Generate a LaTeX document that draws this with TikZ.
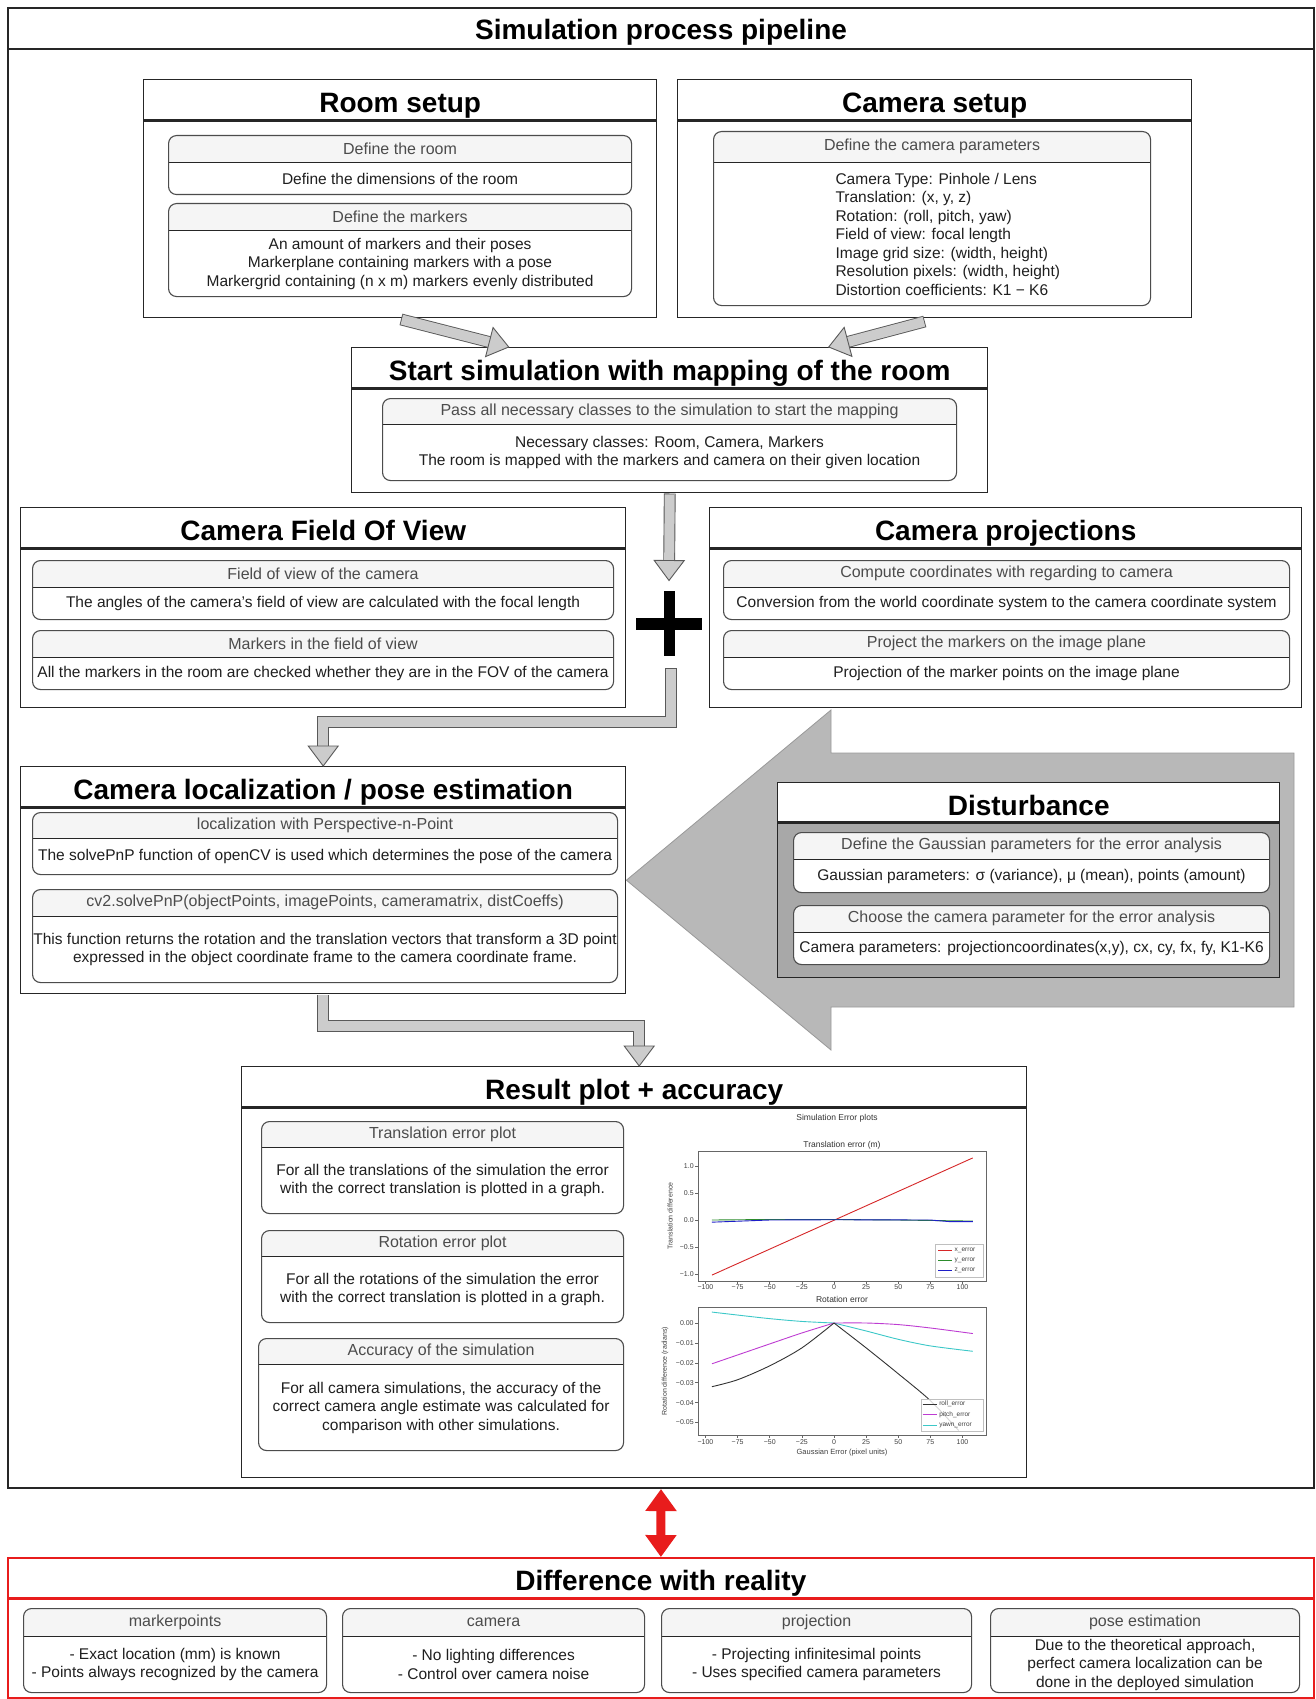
\documentclass[tikz,border=0pt]{standalone}
\usepackage{fontspec}
\setmainfont{Liberation Sans}
\usetikzlibrary{calc,arrows.meta}
\definecolor{hdrgray}{RGB}{245,245,245}
\definecolor{shaftgray}{RGB}{204,204,204}
\definecolor{distgray}{RGB}{184,184,184}
\definecolor{distbody}{RGB}{168,168,168}
\definecolor{realred}{RGB}{232,28,28}
\definecolor{plotred}{RGB}{214,39,40}
\definecolor{plotgreen}{RGB}{44,140,44}
\definecolor{plotblue}{RGB}{30,30,200}
\definecolor{plotmag}{RGB}{190,60,210}
\definecolor{plotcyan}{RGB}{60,200,200}

\newcommand{\bodyfont}{\fontsize{15.5}{18.5}\selectfont}
\newcommand{\headfont}{\fontsize{16}{19}\selectfont}
\newcommand{\titlefont}{\fontsize{28}{32}\selectfont\bfseries}

% header + body text of a card
\newcommand{\cardtext}[4][27]{%
  \node[hd] (#2-h) at ([yshift=-#1pt/2]#2.north) {#3};
  \node[bd] (#2-b) at ($([yshift=-#1pt]#2.north)!0.5!(#2.south)$) {#4};}

% fat gray connector: path, last point before tip, tip
\newcommand{\fatarrow}[3]{%
  \path ($(#3)!20pt!(#2)$) coordinate (hb);
  \draw[shaft] #1 -- (hb);
  \filldraw[fathead] (#3) -- ($(hb)!15pt!90:(#3)$) -- ($(hb)!15pt!-90:(#3)$) -- cycle;}

\begin{document}
\begin{tikzpicture}[x=1pt, y=-1pt,
  panel/.style={draw=black!85, line width=1.4pt, fill=white, anchor=north west, inner sep=0pt,
    path picture={\draw[black!85, line width=2.8pt] ([yshift=-41pt]path picture bounding box.north west) -- ([yshift=-41pt]path picture bounding box.north east);}},
  distpanel/.style={draw=black!85, line width=1.4pt, fill=distbody, anchor=north west, inner sep=0pt,
    path picture={\fill[white] (path picture bounding box.north west) rectangle ([yshift=-40pt]path picture bounding box.north east);
      \draw[black!85, line width=2.8pt] ([yshift=-40pt]path picture bounding box.north west) -- ([yshift=-40pt]path picture bounding box.north east);}},
  diffpanel/.style={draw=realred, line width=1.8pt, fill=white, anchor=north west, inner sep=0pt,
    path picture={\draw[realred, line width=3pt] ([yshift=-41pt]path picture bounding box.north west) -- ([yshift=-41pt]path picture bounding box.north east);}},
  card/.style={draw=black!70, line width=1.1pt, rounded corners=8pt, fill=white, anchor=north west, inner sep=0pt,
    path picture={\fill[hdrgray, sharp corners] (path picture bounding box.north west) rectangle ([yshift=-#1]path picture bounding box.north east);
      \draw[black!85, line width=1.6pt, sharp corners] ([yshift=-#1]path picture bounding box.north west) -- ([yshift=-#1]path picture bounding box.north east);}},
  card/.default=27pt,
  hd/.style={font=\headfont, text=black!70},
  bd/.style={font=\bodyfont, align=center, text=black!88},
  ttl/.style={font=\titlefont, text height=21pt, text depth=6pt},
  shaft/.style={draw=black!65, line width=0.9pt, double=shaftgray, double distance=10pt, line cap=rect},
  fathead/.style={fill=shaftgray, draw=black!65, line width=0.9pt, line join=miter},
  axisline/.style={draw=black!60, line width=0.6pt},
  tick/.style={font=\fontsize{7}{8}\selectfont, text=black!75, inner sep=1pt},
  legtext/.style={font=\fontsize{6.5}{7}\selectfont, text=black!75, inner sep=1pt},
  pfont/.style={font=\fontsize{8.5}{10}\selectfont, text=black!80, inner sep=1pt}]
\useasboundingbox (0,0) rectangle (1315,1699);

% Main frame
\node[panel, line width=2pt, minimum width=1306pt, minimum height=1480pt] (main) at (7,7) {};
\node[ttl] (mainT) at ($(main.north)+(0,25)$) {Simulation process pipeline};

% Room setup
\node[panel, minimum width=513pt, minimum height=238pt] (room) at (143,79) {};
\node[ttl] (roomT) at ($(room.north)+(0,26)$) {Room setup};
\node[card, minimum width=463pt, minimum height=59pt] (cRoom) at (168,135) {};
\cardtext{cRoom}{Define the room}{Define the dimensions of the room}
\node[card, minimum width=463pt, minimum height=93pt] (cMark) at (168,203) {};
\cardtext{cMark}{Define the markers}{An amount of markers and their poses\\Markerplane containing markers with a pose\\Markergrid containing (n x m) markers evenly distributed}

% Camera setup
\node[panel, minimum width=514pt, minimum height=238pt] (camset) at (677,79) {};
\node[ttl] (camsetT) at ($(camset.north)+(0,26)$) {Camera setup};
\node[card=31pt, minimum width=437pt, minimum height=174pt] (cCam) at (713,131) {};
\node[hd] (cCam-h) at ([yshift=-15.5pt]cCam.north) {Define the camera parameters};
\node[bd, align=left, anchor=west] (cCam-b) at (832,234) {Camera Type: Pinhole / Lens\\Translation: (x, y, z)\\Rotation: (roll, pitch, yaw)\\Field of view: focal length\\Image grid size: (width, height)\\Resolution pixels: (width, height)\\Distortion coefficients: K1 − K6};

% Start simulation
\node[panel, minimum width=636pt, minimum height=145pt] (start) at (351,347) {};
\node[ttl] (startT) at ($(start.north)+(0,26)$) {Start simulation with mapping of the room};
\node[card=26pt, minimum width=574pt, minimum height=82pt] (cPass) at (382,398) {};
\cardtext[26]{cPass}{Pass all necessary classes to the simulation to start the mapping}{Necessary classes: Room, Camera, Markers\\The room is mapped with the markers and camera on their given location}

% Camera field of view
\node[panel, minimum width=605pt, minimum height=200pt] (fov) at (20,507) {};
\node[ttl] (fovT) at ($(fov.north)+(0,26)$) {Camera Field Of View};
\node[card, minimum width=581pt, minimum height=59pt] (cFov1) at (32,560) {};
\cardtext{cFov1}{Field of view of the camera}{The angles of the camera's field of view are calculated with the focal length}
\node[card, minimum width=581pt, minimum height=59pt] (cFov2) at (32,630) {};
\cardtext{cFov2}{Markers in the field of view}{All the markers in the room are checked whether they are in the FOV of the camera}

% Camera projections
\node[panel, minimum width=592pt, minimum height=200pt] (proj) at (709,507) {};
\node[ttl] (projT) at ($(proj.north)+(0,26)$) {Camera projections};
\node[card, minimum width=566pt, minimum height=59pt] (cProj1) at (723,560) {};
\cardtext{cProj1}{Compute coordinates with regarding to camera}{Conversion from the world coordinate system to the camera coordinate system}
\node[card, minimum width=566pt, minimum height=59pt] (cProj2) at (723,630) {};
\cardtext{cProj2}{Project the markers on the image plane}{Projection of the marker points on the image plane}

% Camera localization
\node[panel, minimum width=605pt, minimum height=227pt] (loc) at (20,766) {};
\node[ttl] (locT) at ($(loc.north)+(0,26)$) {Camera localization / pose estimation};
\node[card=26pt, minimum width=585pt, minimum height=62pt] (cLoc1) at (32,812) {};
\cardtext[26]{cLoc1}{localization with Perspective-n-Point}{The solvePnP function of openCV is used which determines the pose of the camera}
\node[card, minimum width=585pt, minimum height=93pt] (cLoc2) at (32,889) {};
\cardtext{cLoc2}{cv2.solvePnP(objectPoints, imagePoints, cameramatrix, distCoeffs)}{This function returns the rotation and the translation vectors that transform a 3D point\\expressed in the object coordinate frame to the camera coordinate frame.}

% Disturbance arrow
\filldraw[fill=distgray, draw=black!40, line width=0.8pt] (loc.east) -- (831,710) -- (831,753) -- (1294,753) -- (1294,1007) -- (831,1007) -- (831,1050) -- cycle;
\node[distpanel, minimum width=502pt, minimum height=195pt] (dist) at (777,782) {};
\node[ttl] (distT) at ($(dist.north)+(0,25.5)$) {Disturbance};
\node[card, minimum width=476pt, minimum height=60pt] (cDist1) at (793,832) {};
\cardtext{cDist1}{Define the Gaussian parameters for the error analysis}{Gaussian parameters: σ (variance), μ (mean), points (amount)}
\node[card, minimum width=476pt, minimum height=59pt] (cDist2) at (793,905) {};
\cardtext{cDist2}{Choose the camera parameter for the error analysis}{Camera parameters: projectioncoordinates(x,y), cx, cy, fx, fy, K1-K6}

% Result plot + accuracy
\node[panel, minimum width=785pt, minimum height=411pt] (result) at (241,1066) {};
\node[ttl] (resultT) at ($(result.north)+(0,26)$) {Result plot + accuracy};
\node[card=26pt, minimum width=362pt, minimum height=92pt] (cRes1) at (261,1121) {};
\cardtext[26]{cRes1}{Translation error plot}{For all the translations of the simulation the error\\with the correct translation is plotted in a graph.}
\node[card=26pt, minimum width=362pt, minimum height=92pt] (cRes2) at (261,1230) {};
\cardtext[26]{cRes2}{Rotation error plot}{For all the rotations of the simulation the error\\with the correct translation is plotted in a graph.}
\node[card=26pt, minimum width=365pt, minimum height=112pt] (cRes3) at (258,1338) {};
\cardtext[26]{cRes3}{Accuracy of the simulation}{For all camera simulations, the accuracy of the\\correct camera angle estimate was calculated for\\comparison with other simulations.}

% Error plots
\node[pfont] (plotT) at (837,1118) {Simulation Error plots};
\node[pfont] (transT) at (842,1145) {Translation error (m)};
\node[pfont] (rotT) at (842,1299) {Rotation error};
\node[tick, font=\fontsize{7.5}{9}\selectfont] (gaussL) at (842,1453) {Gaussian Error (pixel units)};
\node[tick, rotate=90] (transL) at (670,1216) {Translation difference};
\node[tick, rotate=90] (rotL) at (665,1371) {Rotation difference (radians)};
\begin{scope}[shift={(834,1220)}, x=1.285pt, y=54pt]
  \draw[axisline] (-105.8,-1.13) rectangle (118.3,1.278);
  \foreach \v/\t [count=\k] in {-100/−100,-75/−75,-50/−50,-25/−25,0/0,25/25,50/50,75/75,100/100} {
    \draw[axisline] (\v,-1.13) -- (\v,-1.19);
    \node[tick, below] (ux\k) at (\v,-1.18) {\t};}
  \foreach \v/\t [count=\k] in {-1/−1.0,-0.5/−0.5,0/0.0,0.5/0.5,1/1.0} {
    \draw[axisline] (-105.8,\v) -- (-108.3,\v);
    \node[tick, left] (uy\k) at (-108.3,\v) {\t};}
  \draw[plotred, line width=0.9pt] (-95,-1.02) -- (108,1.15);
  \draw[plotgreen, line width=0.9pt] (-95,0) -- (-50,0.01) -- (0,0.01) -- (50,0) -- (108,-0.02);
  \draw[plotblue, line width=0.9pt] (-95,-0.04) -- (-50,0) -- (0,0.005) -- (75,0) -- (90,-0.03) -- (108,-0.03);
  \filldraw[fill=white, draw=black!25, line width=0.5pt] (78.6,-0.444) rectangle (116,-1.056);
  \foreach \c/\t/\yy [count=\k] in {plotred/x\_error/-0.556, plotgreen/y\_error/-0.74, plotblue/z\_error/-0.926} {
    \draw[\c, line width=0.9pt] (81,\yy) -- (92,\yy);
    \node[legtext, right] (ul\k) at (93,\yy) {\t};}
\end{scope}
\begin{scope}[shift={(834,1323)}, x=1.285pt, y=1990pt]
  \draw[axisline] (-105.8,-0.0563) rectangle (118.3,0.00804);
  \foreach \v/\t [count=\k] in {-100/−100,-75/−75,-50/−50,-25/−25,0/0,25/25,50/50,75/75,100/100} {
    \draw[axisline] (\v,-0.0563) -- (\v,-0.0578);
    \node[tick, below] (lx\k) at (\v,-0.0578) {\t};}
  \foreach \v/\t [count=\k] in {0/0.00,-0.01/−0.01,-0.02/−0.02,-0.03/−0.03,-0.04/−0.04,-0.05/−0.05} {
    \draw[axisline] (-105.8,\v) -- (-108.3,\v);
    \node[tick, left] (ly\k) at (-108.3,\v) {\t};}
  \draw[plotcyan, line width=0.9pt] plot[smooth] coordinates {(-95,0.0055) (-75,0.0040) (-50,0.0022) (-25,0.0008) (0,0)}
    plot[smooth] coordinates {(0,0) (25,-0.004) (50,-0.0082) (75,-0.0115) (108,-0.0142)};
  \draw[plotmag, line width=0.9pt] plot[smooth] coordinates {(-95,-0.0205) (-50,-0.0105) (-25,-0.005) (0,0)}
    plot[smooth] coordinates {(0,0) (25,0.0) (50,-0.0008) (75,-0.0025) (108,-0.0053)};
  \draw[black!80, line width=0.9pt] plot[smooth] coordinates {(-95,-0.032) (-75,-0.0285) (-50,-0.0215) (-25,-0.0125) (0,0)}
    plot[smooth] coordinates {(0,0) (25,-0.0125) (50,-0.0255) (75,-0.039) (97,-0.054)};
  \filldraw[fill=white, fill opacity=0.8, draw=black!25, line width=0.5pt] (67.7,-0.0382) rectangle (116,-0.0543);
  \foreach \c/\t/\yy [count=\k] in {black!80/roll\_error/-0.0407, plotmag/pitch\_error/-0.046, plotcyan/yawn\_error/-0.0513} {
    \draw[\c, line width=0.9pt] (69,\yy) -- (80,\yy);
    \node[legtext, right] (ll\k) at (81,\yy) {\t};}
\end{scope}

% Plus sign
\coordinate (plus) at (669,623.5);
\draw[line width=11pt] ([yshift=32.5pt]plus) -- ([yshift=-32.5pt]plus);
\draw[line width=12pt] ([xshift=-33pt]plus) -- ([xshift=33pt]plus);

% Fat connectors
\coordinate (rsTail) at ([xshift=6.5pt,yshift=-2.5pt]room.south);
\coordinate (rsTip) at ([xshift=-161pt]start.north);
\fatarrow{(rsTail)}{rsTail}{rsTip}
\coordinate (csTail) at ([xshift=-15.6pt,yshift=-4.6pt]camset.south);
\coordinate (csTip) at ([xshift=159pt]start.north);
\fatarrow{(csTail)}{csTail}{csTip}
\coordinate (spTail) at ([yshift=-6pt]start.south);
\coordinate (spTip) at ([yshift=43pt]plus);
\fatarrow{(spTail)}{spTail}{spTip}
\coordinate (plTail) at ([xshift=2pt,yshift=-50.5pt]plus);
\path (loc.north) ++(0,-44) coordinate (plBend);
\fatarrow{(plTail) |- (plBend)}{plBend}{loc.north}
\coordinate (lrTail) at ([yshift=-6pt]loc.south);
\coordinate (lrTip) at ([xshift=5pt]result.north);
\path (lrTip) ++(0,-40) coordinate (lrBend);
\fatarrow{(lrTail) |- (lrBend)}{lrBend}{lrTip}

% Difference with reality
\node[diffpanel, minimum width=1306pt, minimum height=140pt] (diff) at (7,1557) {};
\node[ttl] (diffT) at ($(diff.north)+(0,26)$) {Difference with reality};
\draw[realred, line width=9pt, {Triangle[width=30pt,length=22pt]}-{Triangle[width=30pt,length=22pt]}] (main.south) -- (diff.north);
\node[card=28pt, minimum width=303pt, minimum height=84pt] (cMp) at (23,1608) {};
\cardtext[28]{cMp}{markerpoints}{- Exact location (mm) is known\\- Points always recognized by the camera}
\node[card=28pt, minimum width=302pt, minimum height=84pt] (cCm) at (342,1608) {};
\cardtext[28]{cCm}{camera}{- No lighting differences\\- Control over camera noise}
\node[card=28pt, minimum width=310pt, minimum height=84pt] (cPr) at (661,1608) {};
\cardtext[28]{cPr}{projection}{- Projecting infinitesimal points\\- Uses specified camera parameters}
\node[card=28pt, minimum width=309pt, minimum height=84pt] (cPe) at (990,1608) {};
\cardtext[28]{cPe}{pose estimation}{Due to the theoretical approach,\\perfect camera localization can be\\done in the deployed simulation}
\end{tikzpicture}
\end{document}
